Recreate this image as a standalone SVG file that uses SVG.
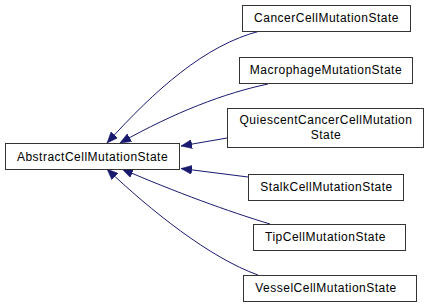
<svg xmlns="http://www.w3.org/2000/svg" width="429" height="307" viewBox="0 0 429 307">
  <defs>
    <style>
      .node rect { fill: #ffffff; stroke: #333333; stroke-width: 1; }
      .node text { font-family: "Liberation Sans", Arial, Helvetica, sans-serif; font-size: 12px; letter-spacing: 0.5px; fill: #000000; text-anchor: middle; }
      .edge { fill: none; stroke: #191970; stroke-width: 1; marker-end: url(#arrow); }
    </style>
    <marker id="arrow" markerUnits="userSpaceOnUse" markerWidth="12" markerHeight="9" refX="11" refY="4.5" orient="auto">
      <path d="M0,0 L11,4.5 L0,9 z" fill="#191970" stroke="#191970" stroke-width="0.5"/>
    </marker>
  </defs>
  <rect width="429" height="307" fill="#ffffff"/>

  <!-- inheritance connectors: derived -> base -->
  <g id="edges">
    <path class="edge" d="M260,31 C205,45 155,90 107,143"/>
    <path class="edge" d="M268,84 C225,93 175,112 120,143"/>
    <path class="edge" d="M227,138 L181,146"/>
    <path class="edge" d="M248,177 L181,168.5"/>
    <path class="edge" d="M270,224 C230,212 175,192 122,169"/>
    <path class="edge" d="M258,275 C210,258 150,210 107,169"/>
  </g>

  <g id="AbstractCellMutationState" class="node">
    <rect x="5.5" y="143.5" width="174" height="26"/>
    <text x="92.5" y="160.5">AbstractCellMutationState</text>
  </g>
  <g id="CancerCellMutationState" class="node">
    <rect x="242.5" y="5.5" width="168" height="26"/>
    <text x="326.5" y="22">CancerCellMutationState</text>
  </g>
  <g id="MacrophageMutationState" class="node">
    <rect x="239.5" y="57.5" width="173" height="26"/>
    <text x="326" y="74">MacrophageMutationState</text>
  </g>
  <g id="QuiescentCancerCellMutationState" class="node">
    <rect x="227.5" y="108.5" width="196" height="39"/>
    <text x="326" y="123.5">QuiescentCancerCellMutation</text>
    <text x="326" y="138.5">State</text>
  </g>
  <g id="StalkCellMutationState" class="node">
    <rect x="248.5" y="174.5" width="155" height="26"/>
    <text x="326.5" y="190.5">StalkCellMutationState</text>
  </g>
  <g id="TipCellMutationState" class="node">
    <rect x="253.5" y="224.5" width="152" height="26"/>
    <text x="325.5" y="241">TipCellMutationState</text>
  </g>
  <g id="VesselCellMutationState" class="node">
    <rect x="243.5" y="275.5" width="173" height="26"/>
    <text x="326" y="292">VesselCellMutationState</text>
  </g>
</svg>
